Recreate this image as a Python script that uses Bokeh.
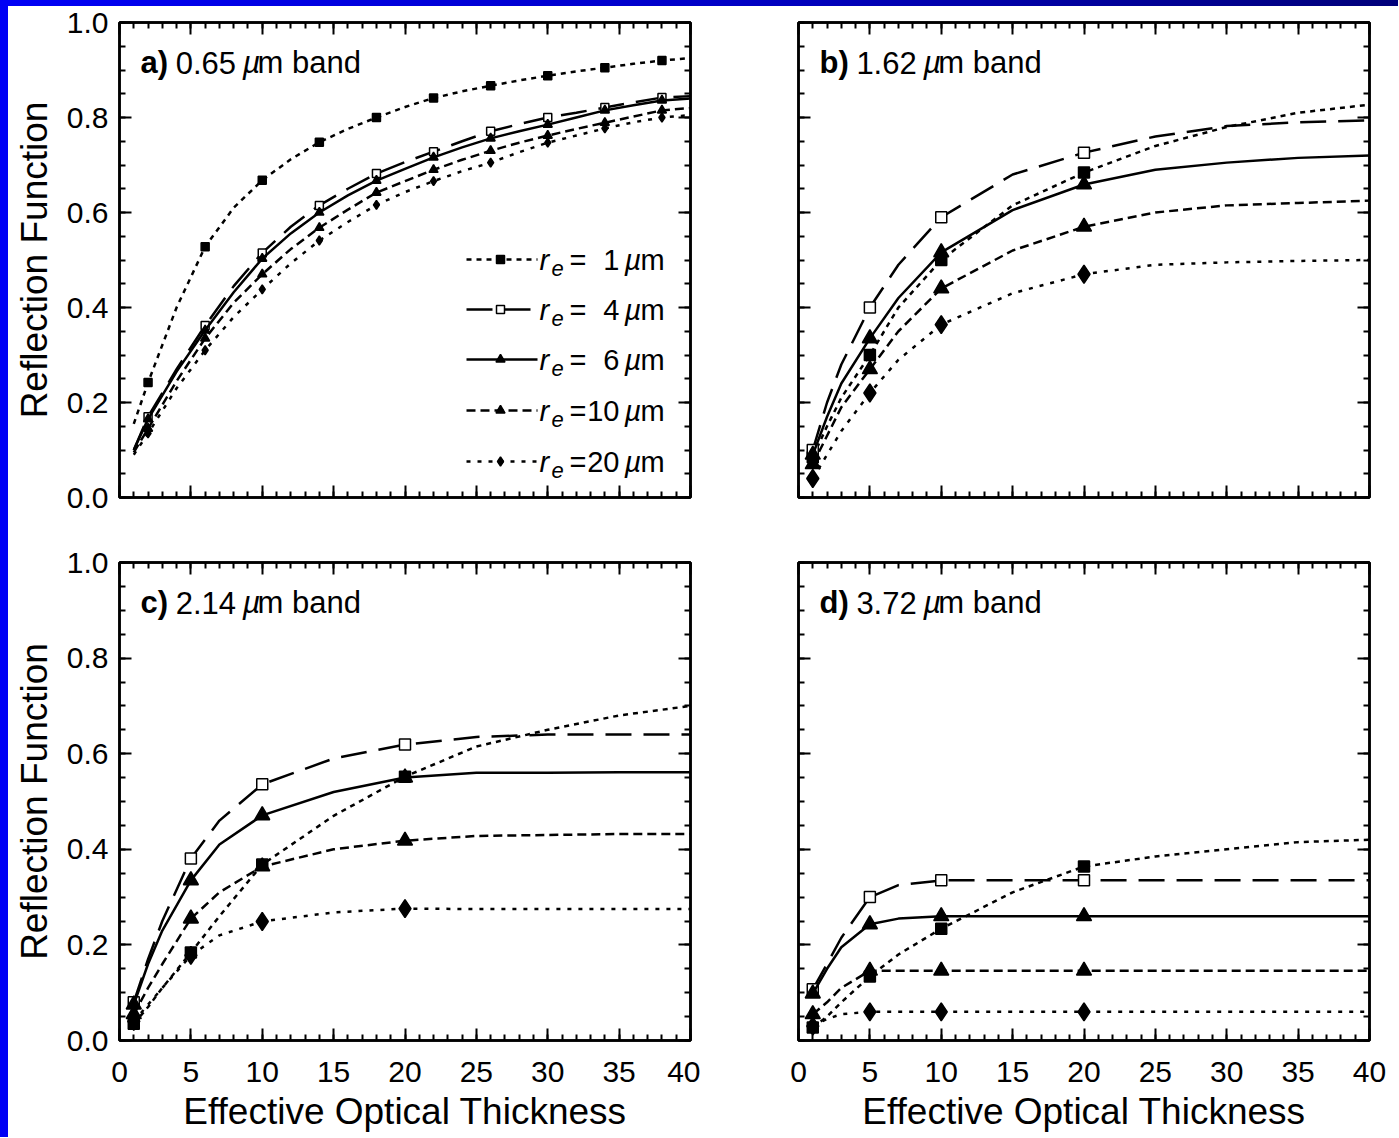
from bokeh.plotting import figure
from bokeh.models import (LinearAxis, SingleIntervalTicker, Range1d, Label, PrintfTickFormatter,
                          CustomJSTickFormatter, Div)
from bokeh.layouts import row, column
from bokeh.embed import file_html
from bokeh.resources import INLINE

FONT = "Liberation Sans"

# ---------------- data ----------------
TAU_A = [1, 2, 4, 6, 8, 10, 12, 14, 16, 18, 20, 22, 24, 26, 28, 30, 32, 34, 36, 38, 40]
A_R1 = [0.155, 0.242, 0.40, 0.528, 0.61, 0.668, 0.712, 0.748, 0.776, 0.80, 0.822, 0.841, 0.855, 0.867, 0.878, 0.888, 0.897, 0.905, 0.913, 0.92, 0.925]
A_R4 = [0.10, 0.17, 0.27, 0.362, 0.445, 0.515, 0.57, 0.615, 0.65, 0.682, 0.706, 0.728, 0.75, 0.771, 0.786, 0.80, 0.81, 0.821, 0.832, 0.842, 0.845]
A_R6 = [0.10, 0.165, 0.265, 0.352, 0.432, 0.503, 0.556, 0.60, 0.636, 0.667, 0.692, 0.716, 0.737, 0.756, 0.771, 0.785, 0.80, 0.815, 0.826, 0.836, 0.84]
A_R10 = [0.095, 0.145, 0.245, 0.335, 0.41, 0.47, 0.523, 0.568, 0.606, 0.642, 0.666, 0.69, 0.711, 0.73, 0.747, 0.762, 0.776, 0.789, 0.802, 0.815, 0.82]
A_R20 = [0.09, 0.135, 0.23, 0.31, 0.38, 0.438, 0.493, 0.541, 0.58, 0.616, 0.643, 0.666, 0.687, 0.705, 0.727, 0.747, 0.762, 0.777, 0.79, 0.80, 0.805]
A_MARK_TAU = [2, 6, 10, 14, 18, 22, 26, 30, 34, 38]

TAU = [1, 2, 3, 5, 7, 10, 15, 20, 25, 30, 35, 40]
MARK_TAU = [1, 5, 10, 20]

B_R1 = [0.085, 0.15, 0.21, 0.30, 0.40, 0.50, 0.615, 0.684, 0.74, 0.78, 0.81, 0.827]
B_R4 = [0.10, 0.20, 0.28, 0.40, 0.49, 0.59, 0.68, 0.726, 0.76, 0.782, 0.79, 0.794]
B_R6 = [0.09, 0.17, 0.24, 0.335, 0.42, 0.516, 0.605, 0.659, 0.69, 0.705, 0.715, 0.72]
B_R10 = [0.07, 0.13, 0.19, 0.27, 0.35, 0.44, 0.52, 0.57, 0.60, 0.615, 0.62, 0.625]
B_R20 = [0.04, 0.09, 0.14, 0.22, 0.29, 0.364, 0.43, 0.47, 0.49, 0.495, 0.498, 0.50]

C_R1 = [0.035, 0.07, 0.11, 0.184, 0.26, 0.368, 0.47, 0.552, 0.615, 0.65, 0.68, 0.70]
C_R4 = [0.08, 0.17, 0.25, 0.381, 0.46, 0.536, 0.59, 0.619, 0.635, 0.64, 0.64, 0.64]
C_R6 = [0.075, 0.16, 0.23, 0.335, 0.41, 0.471, 0.52, 0.55, 0.56, 0.56, 0.561, 0.561]
C_R10 = [0.055, 0.11, 0.16, 0.255, 0.31, 0.364, 0.40, 0.418, 0.428, 0.43, 0.432, 0.432]
C_R20 = [0.04, 0.075, 0.11, 0.178, 0.22, 0.249, 0.268, 0.276, 0.275, 0.275, 0.275, 0.275]

D_R1 = [0.027, 0.05, 0.08, 0.134, 0.18, 0.234, 0.31, 0.364, 0.385, 0.40, 0.415, 0.42]
D_R4 = [0.107, 0.16, 0.215, 0.30, 0.325, 0.335, 0.335, 0.335, 0.335, 0.335, 0.335, 0.335]
D_R6 = [0.098, 0.15, 0.195, 0.243, 0.255, 0.26, 0.26, 0.26, 0.26, 0.26, 0.26, 0.26]
D_R10 = [0.055, 0.08, 0.11, 0.146, 0.146, 0.146, 0.146, 0.146, 0.146, 0.146, 0.146, 0.146]
D_R20 = [0.03, 0.045, 0.055, 0.06, 0.06, 0.06, 0.06, 0.06, 0.06, 0.06, 0.06, 0.06]

RE_LABELS = ["1", "4", "6", "10", "20"]
PANEL_LETTERS = ["a)", "b)", "c)", "d)"]
PANEL_BANDS = ["0.65", "1.62", "2.14", "3.72"]
X_TITLE = "Effective Optical Thickness"
Y_TITLE = "Reflection Function"

# ---------------- styles ----------------
DASH = ["5 5", "26 12", "solid", "9 5", "4 7"]
MARKER = ["square", "square", "triangle", "triangle", "diamond"]
MFILL = ["black", "white", "black", "black", "black"]
SIZE_SMALL = [8, 8, 9, 9, 9]
SIZE_BIG = [11, 11, 15, 15, 18]
LW = 2.5
STRIP_L = 8
STRIP_T = 6

FRAME_W = 571


def style_axis(ax, ticker, show_labels, title=None, fmt=None, title_standoff=6):
    ax.ticker = ticker
    ax.axis_line_width = 2.5
    ax.axis_line_color = "black"
    ax.major_tick_in = 12
    ax.major_tick_out = 0
    ax.minor_tick_in = 6
    ax.minor_tick_out = 0
    ax.major_tick_line_width = 2
    ax.minor_tick_line_width = 2
    ax.major_tick_line_color = "black"
    ax.minor_tick_line_color = "black"
    if show_labels:
        if fmt is not None:
            ax.formatter = fmt
        ax.major_label_text_font = FONT
        ax.major_label_text_font_size = "30px"
        ax.major_label_text_color = "black"
    else:
        ax.formatter = CustomJSTickFormatter(code="return '';")
        ax.major_label_text_font_size = "1px"
        ax.major_label_standoff = 0
    if title:
        ax.axis_label = title
        ax.axis_label_text_font = FONT
        ax.axis_label_text_font_size = "37px"
        ax.axis_label_text_font_style = "normal"
        ax.axis_label_text_color = "black"
        ax.axis_label_standoff = title_standoff


def make_panel(idx, tau, series, mark_tau, sizes, left, top):
    if left:
        width, mbl, mbr = 700 - STRIP_L, 119 - STRIP_L, 10
    else:
        width, mbl, mbr = 698, 98, 29
    if top:
        height, mbt, mbb = 530 - STRIP_T, 22 - STRIP_T, 33
    else:
        height, mbt, mbb = 607, 32, 97
    frame_h = height - mbt - mbb
    p = figure(width=width, height=height, x_range=Range1d(0, 40), y_range=Range1d(0, 1),
               output_backend="svg", toolbar_location=None,
               min_border_left=mbl, min_border_right=mbr,
               min_border_top=mbt, min_border_bottom=mbb)
    p.grid.visible = False
    p.outline_line_color = "black"
    p.outline_line_width = 2.5
    p.background_fill_color = "white"
    p.border_fill_color = "white"

    style_axis(p.xaxis[0], SingleIntervalTicker(interval=5, num_minor_ticks=5), not top,
               X_TITLE if not top else None, title_standoff=6)
    p.xaxis[0].major_label_standoff = 21 if not top else 0
    style_axis(p.yaxis[0], SingleIntervalTicker(interval=0.2, num_minor_ticks=4), left,
               Y_TITLE if left else None, PrintfTickFormatter(format="%.1f"), title_standoff=9)
    if left:
        p.yaxis[0].major_label_standoff = 11
    ax_top = LinearAxis()
    style_axis(ax_top, SingleIntervalTicker(interval=5, num_minor_ticks=5), False)
    p.add_layout(ax_top, "above")
    ax_right = LinearAxis()
    style_axis(ax_right, SingleIntervalTicker(interval=0.2, num_minor_ticks=4), False)
    p.add_layout(ax_right, "right")

    for k, ys in enumerate(series):
        p.line(tau, ys, line_color="black", line_width=LW, line_dash=DASH[k])
        mx = list(mark_tau)
        my = [ys[tau.index(t)] for t in mark_tau]
        p.scatter(mx, my, marker=MARKER[k], size=sizes[k], fill_color=MFILL[k],
                  line_color="black", line_width=1.5)

    # panel title
    fs = 31
    bold_w = {"a)": 0.889, "b)": 0.944, "c)": 0.889, "d)": 0.944}[PANEL_LETTERS[idx]]
    x0 = 21
    x1 = x0 + (bold_w + 0.278) * fs - 1
    x2 = x1 + 2.224 * fs - 2
    x3 = x2 + 15
    common = dict(x=0, y=1, y_offset=-40, text_font=FONT, text_font_size=f"{fs}px",
                  text_baseline="middle", text_align="left", text_color="black")
    p.add_layout(Label(text=PANEL_LETTERS[idx], x_offset=x0, text_font_style="bold", **common))
    p.add_layout(Label(text=PANEL_BANDS[idx], x_offset=x1, **common))
    p.add_layout(Label(text="\u00b5", x_offset=x2, text_font_style="italic", **common))
    p.add_layout(Label(text="m band", x_offset=x3, **common))
    return p, frame_h


pa, fha = make_panel(0, TAU_A, [A_R1, A_R4, A_R6, A_R10, A_R20], A_MARK_TAU, SIZE_SMALL, True, True)
pb, _ = make_panel(1, TAU, [B_R1, B_R4, B_R6, B_R10, B_R20], MARK_TAU, SIZE_BIG, False, True)
pc, _ = make_panel(2, TAU, [C_R1, C_R4, C_R6, C_R10, C_R20], MARK_TAU, SIZE_BIG, True, False)
pd, _ = make_panel(3, TAU, [D_R1, D_R4, D_R6, D_R10, D_R20], MARK_TAU, SIZE_BIG, False, False)

# ---------------- legend in panel a ----------------
ROW_OFF = [237, 287, 337, 388, 439]  # px below frame top
LX0, LX1, LXM = 347, 418, 381        # px from frame left


def dx(px):
    return px / FRAME_W * 40


def dy(py):
    return 1 - py / fha


for k, lab in enumerate(RE_LABELS):
    yy = dy(ROW_OFF[k])
    pa.segment(x0=[dx(LX0)], y0=[yy], x1=[dx(LX1)], y1=[yy], line_color="black",
               line_width=LW, line_dash=DASH[k])
    pa.scatter([dx(LXM)], [yy], marker=MARKER[k], size=SIZE_SMALL[k], fill_color=MFILL[k],
               line_color="black", line_width=1.5)
    base = dict(x=0, y=1, y_offset=-ROW_OFF[k], text_font=FONT, text_baseline="middle",
                text_color="black")
    pa.add_layout(Label(text="r", x_offset=420, text_font_size="29px", text_font_style="italic",
                        text_align="left", **base))
    b2 = dict(base)
    b2["y_offset"] = -ROW_OFF[k] - 9
    pa.add_layout(Label(text="e", x_offset=432, text_font_size="22px", text_font_style="italic",
                        text_align="left", **b2))
    pa.add_layout(Label(text="=", x_offset=450, text_font_size="29px", text_align="left", **base))
    pa.add_layout(Label(text=lab, x_offset=500, text_font_size="29px", text_align="right", **base))
    pa.add_layout(Label(text="\u00b5", x_offset=505, text_font_size="29px", text_font_style="italic",
                        text_align="left", **base))
    pa.add_layout(Label(text="m", x_offset=521, text_font_size="29px", text_align="left", **base))

# ---------------- blue slide frame strips ----------------
top_strip = Div(text="", width=1390, height=STRIP_T, margin=0,
                styles={"background": "linear-gradient(to right, #0000f5 0%, #0000c8 50%, #00007a 100%)"})
left_strip = Div(text="", width=STRIP_L, height=1137, margin=0, styles={"background": "#0000f5"})

layout = row(left_strip, column(top_strip, row(pa, pb), row(pc, pd)))
open("out.html", "w").write(file_html(layout, INLINE))
